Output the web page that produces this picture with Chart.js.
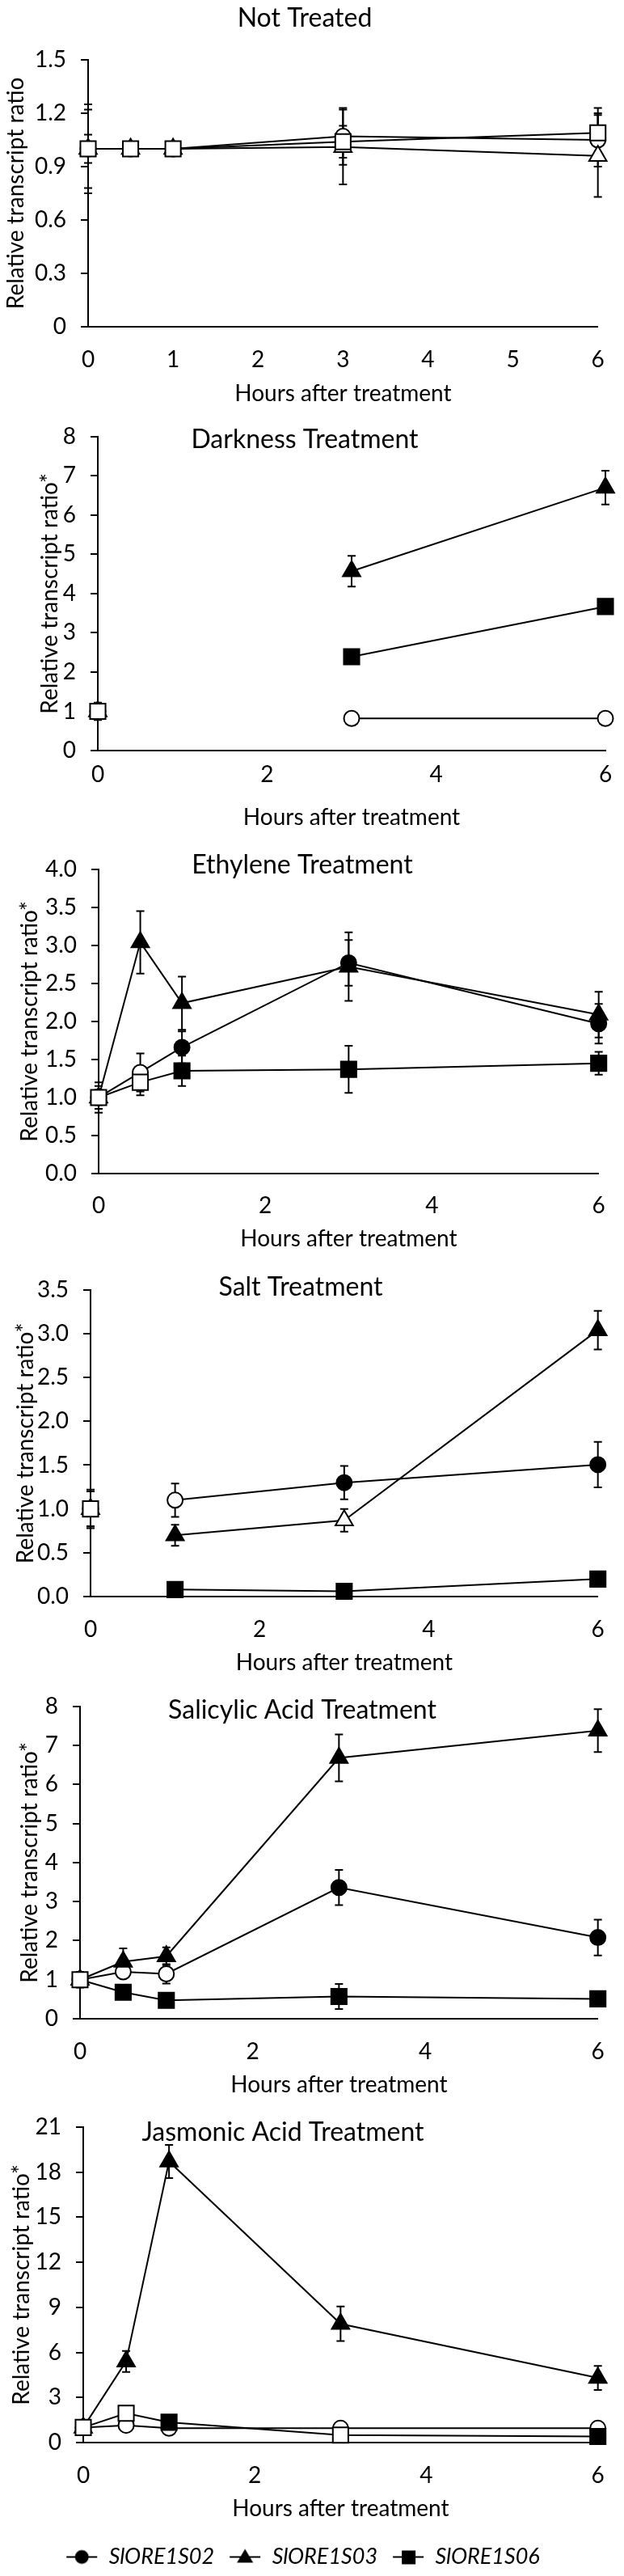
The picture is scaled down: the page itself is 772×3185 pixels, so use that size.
<!DOCTYPE html>
<html><head><meta charset="utf-8">
<script src="https://cdn.jsdelivr.net/npm/chart.js@4.4.1/dist/chart.umd.min.js"></script>
<style>
html,body{margin:0;padding:0;background:#fff;}
#wrap{position:relative;width:772px;height:3185px;overflow:hidden;background:#fff;}
#wrap canvas{position:absolute;left:0;}
</style></head><body>
<div id="wrap"></div>
<script>
// ---------------- DATA ----------------
const genes = ['SlORE1S02', 'SlORE1S03', 'SlORE1S06'];
const panelTitles = ['Not Treated', 'Darkness Treatment', 'Ethylene Treatment', 'Salt Treatment', 'Salicylic Acid Treatment', 'Jasmonic Acid Treatment'];
const xTitle = 'Hours after treatment';
const yTitlePlain = 'Relative transcript ratio';
const yTitleStar = 'Relative transcript ratio*';

// Not treated
const ntHours = [0, 0.5, 1, 3, 6];
const ntS02 = [1, 1, 1, 1.07, 1.05];
const ntS02Err = [0.08, 0, 0, 0.16, 0.15];
const ntS02Sig = [0, 0, 0, 0, 0];
const ntS03 = [1, 1, 1, 1.01, 0.96];
const ntS03Err = [0.22, 0, 0, 0.21, 0.23];
const ntS03Sig = [0, 0, 0, 0, 0];
const ntS06 = [1, 1, 1, 1.04, 1.09];
const ntS06Err = [0.25, 0, 0, 0.09, 0.14];
const ntS06Sig = [0, 0, 0, 0, 0];

// Darkness
const dkHours = [0, 3, 6];
const dkS02 = [1, 0.82, 0.82];
const dkS02Err = [0.2, 0.03, 0.03];
const dkS02Sig = [0, 0, 0];
const dkS03 = [1, 4.57, 6.70];
const dkS03Err = [0.2, 0.39, 0.43];
const dkS03Sig = [0, 1, 1];
const dkS06 = [1, 2.39, 3.67];
const dkS06Err = [0.22, 0.08, 0.12];
const dkS06Sig = [0, 1, 1];

// Ethylene
const etHours = [0, 0.5, 1, 3, 6];
const etS02 = [1, 1.33, 1.66, 2.77, 1.97];
const etS02Err = [0.2, 0.25, 0.21, 0.3, 0.26];
const etS02Sig = [0, 0, 1, 1, 1];
const etS03 = [1, 3.04, 2.24, 2.72, 2.09];
const etS03Err = [0.1, 0.41, 0.35, 0.45, 0.3];
const etS03Sig = [0, 1, 1, 1, 1];
const etS06 = [1, 1.2, 1.35, 1.37, 1.45];
const etS06Err = [0.15, 0.17, 0.2, 0.31, 0.15];
const etS06Sig = [0, 0, 1, 1, 1];

// Salt
const slHours = [0, 1, 3, 6];
const slS02 = [1, 1.10, 1.30, 1.505];
const slS02Err = [0.2, 0.19, 0.19, 0.26];
const slS02Sig = [0, 0, 1, 1];
const slS03 = [1, 0.70, 0.87, 3.04];
const slS03Err = [0.2, 0.12, 0.13, 0.22];
const slS03Sig = [0, 1, 0, 1];
const slS06 = [1, 0.08, 0.06, 0.20];
const slS06Err = [0.22, 0.02, 0.02, 0.02];
const slS06Sig = [0, 1, 1, 1];

// Salicylic acid
const saHours = [0, 0.5, 1, 3, 6];
const saS02 = [1, 1.2, 1.15, 3.36, 2.08];
const saS02Err = [0.15, 0.15, 0.25, 0.45, 0.46];
const saS02Sig = [0, 0, 0, 1, 1];
const saS03 = [1, 1.46, 1.6, 6.68, 7.38];
const saS03Err = [0.15, 0.34, 0.23, 0.6, 0.55];
const saS03Sig = [0, 1, 1, 1, 1];
const saS06 = [1, 0.68, 0.47, 0.57, 0.51];
const saS06Err = [0.2, 0.05, 0.05, 0.32, 0.05];
const saS06Sig = [0, 1, 1, 1, 1];

// Jasmonic acid
const jaHours = [0, 0.5, 1, 3, 6];
const jaS02 = [1, 1.15, 0.95, 0.95, 0.95];
const jaS02Err = [0.1, 0.1, 0.1, 0.1, 0.1];
const jaS02Sig = [0, 0, 0, 0, 0];
const jaS03 = [1, 5.4, 18.7, 7.9, 4.3];
const jaS03Err = [0.2, 0.7, 1.1, 1.15, 0.8];
const jaS03Sig = [0, 1, 1, 1, 1];
const jaS06 = [1, 1.95, 1.35, 0.5, 0.4];
const jaS06Err = [0.2, 0.3, 0.1, 0.1, 0.1];
const jaS06Sig = [0, 0, 1, 0, 1];

// tick values and labels
const xTicksHourly = [0, 1, 2, 3, 4, 5, 6];
const xLabelsHourly = ['0', '1', '2', '3', '4', '5', '6'];
const xTicksEven = [0, 2, 4, 6];
const xLabelsEven = ['0', '2', '4', '6'];
const yTicksNT = [0, 0.3, 0.6, 0.9, 1.2, 1.5];
const yLabelsNT = ['0', '0.3', '0.6', '0.9', '1.2', '1.5'];
const yTicks8 = [0, 1, 2, 3, 4, 5, 6, 7, 8];
const yLabels8 = ['0', '1', '2', '3', '4', '5', '6', '7', '8'];
const yTicksET = [0, 0.5, 1, 1.5, 2, 2.5, 3, 3.5, 4];
const yLabelsET = ['0.0', '0.5', '1.0', '1.5', '2.0', '2.5', '3.0', '3.5', '4.0'];
const yTicksSL = [0, 0.5, 1, 1.5, 2, 2.5, 3, 3.5];
const yLabelsSL = ['0.0', '0.5', '1.0', '1.5', '2.0', '2.5', '3.0', '3.5'];
const yTicksJA = [0, 3, 6, 9, 12, 15, 18, 21];
const yLabelsJA = ['0', '3', '6', '9', '12', '15', '18', '21'];

// ---------------- PANELS (built from the arrays) ----------------
const panels = [
  {title: panelTitles[0], hours: ntHours, joinFirst: true, yTitle: yTitlePlain,
   series: [[ntS02, ntS02Err, ntS02Sig], [ntS03, ntS03Err, ntS03Sig], [ntS06, ntS06Err, ntS06Sig]],
   xTicks: xTicksHourly, xLabels: xLabelsHourly, yTicks: yTicksNT, yLabels: yLabelsNT},
  {title: panelTitles[1], hours: dkHours, joinFirst: false, yTitle: yTitleStar,
   series: [[dkS02, dkS02Err, dkS02Sig], [dkS03, dkS03Err, dkS03Sig], [dkS06, dkS06Err, dkS06Sig]],
   xTicks: xTicksEven, xLabels: xLabelsEven, yTicks: yTicks8, yLabels: yLabels8},
  {title: panelTitles[2], hours: etHours, joinFirst: true, yTitle: yTitleStar,
   series: [[etS02, etS02Err, etS02Sig], [etS03, etS03Err, etS03Sig], [etS06, etS06Err, etS06Sig]],
   xTicks: xTicksEven, xLabels: xLabelsEven, yTicks: yTicksET, yLabels: yLabelsET},
  {title: panelTitles[3], hours: slHours, joinFirst: false, yTitle: yTitleStar,
   series: [[slS02, slS02Err, slS02Sig], [slS03, slS03Err, slS03Sig], [slS06, slS06Err, slS06Sig]],
   xTicks: xTicksEven, xLabels: xLabelsEven, yTicks: yTicksSL, yLabels: yLabelsSL},
  {title: panelTitles[4], hours: saHours, joinFirst: true, yTitle: yTitleStar,
   series: [[saS02, saS02Err, saS02Sig], [saS03, saS03Err, saS03Sig], [saS06, saS06Err, saS06Sig]],
   xTicks: xTicksEven, xLabels: xLabelsEven, yTicks: yTicks8, yLabels: yLabels8},
  {title: panelTitles[5], hours: jaHours, joinFirst: true, yTitle: yTitleStar,
   series: [[jaS02, jaS02Err, jaS02Sig], [jaS03, jaS03Err, jaS03Sig], [jaS06, jaS06Err, jaS06Sig]],
   xTicks: xTicksEven, xLabels: xLabelsEven, yTicks: yTicksJA, yLabels: yLabelsJA}
];

// ---------------- LAYOUT ----------------
const TICK_FONT = 28, XT_FONT = 28, YT_FONT = 28, TITLE_FONT = 32, LEG_FONT = 27;
const geo = [
  {top: 0,    h: 505, L: 109, R: 747, T: 74,   B: 404,  tx: 377, ty: 23,   ytx: 20, xlab: 445,  xt: 487},
  {top: 505,  h: 535, L: 121, R: 749, T: 534,  B: 928,  tx: 377, ty: 544,  ytx: 62, xlab: 958,  xt: 1011},
  {top: 1040, h: 520, L: 122, R: 751, T: 1057, B: 1451, tx: 374, ty: 1070, ytx: 37, xlab: 1491, xt: 1532},
  {top: 1560, h: 515, L: 112, R: 749, T: 1582, B: 1974, tx: 372, ty: 1592, ytx: 32, xlab: 2015, xt: 2056},
  {top: 2075, h: 520, L: 99,  R: 749, T: 2105, B: 2496, tx: 374, ty: 2115, ytx: 37, xlab: 2537, xt: 2578},
  {top: 2595, h: 590, L: 103, R: 749, T: 2628, B: 3020, tx: 350, ty: 2637, ytx: 27, xlab: 3061, xt: 3102}
];
const LEG_PAD = 18;
const LEGEND_H = LEG_FONT + LEG_PAD + 10;
const markerStyles = ['circle', 'triangle', 'rect'];
const markerRadii = [9.5, 12.5, 13.5];

Chart.defaults.font.family = 'Lato';
Chart.defaults.color = '#000';

const errorBars = {
  id: 'errorBars',
  beforeDatasetsDraw(chart) {
    const ctx = chart.ctx, ys = chart.scales.y;
    ctx.save();
    ctx.strokeStyle = '#000';
    ctx.lineWidth = 2;
    chart.data.datasets.forEach((ds, di) => {
      const meta = chart.getDatasetMeta(di);
      (ds.errors || []).forEach((e, i) => {
        if (!e) return;
        const v = ds.data[i].y, x = meta.data[i].x;
        const y1 = ys.getPixelForValue(v + e), y2 = ys.getPixelForValue(v - e);
        ctx.beginPath();
        ctx.moveTo(x, y1); ctx.lineTo(x, y2);
        ctx.moveTo(x - 5, y1); ctx.lineTo(x + 5, y1);
        ctx.moveTo(x - 5, y2); ctx.lineTo(x + 5, y2);
        ctx.stroke();
      });
    });
    ctx.restore();
  }
};

const panelTitle = {
  id: 'panelTitle',
  afterDraw(chart, args, opts) {
    if (!opts || !opts.text) return;
    const ctx = chart.ctx;
    ctx.save();
    ctx.font = opts.font;
    ctx.fillStyle = '#000';
    ctx.textAlign = 'center';
    ctx.textBaseline = 'middle';
    ctx.fillText(opts.text, opts.x, opts.y);
    ctx.restore();
  }
};

function legendIcon(k) {
  const c = document.createElement('canvas');
  c.width = 40; c.height = 26;
  const g = c.getContext('2d');
  g.strokeStyle = '#000'; g.lineWidth = 2;
  g.beginPath(); g.moveTo(1, 13); g.lineTo(39, 13); g.stroke();
  g.fillStyle = '#000';
  g.beginPath();
  if (k === 0) { g.arc(20, 13, 8.5, 0, Math.PI * 2); g.fill(); }
  else if (k === 1) { g.moveTo(20, 3); g.lineTo(30, 20); g.lineTo(10, 20); g.closePath(); g.fill(); }
  else { g.fillRect(12, 5, 17, 17); }
  return c;
}
const legendIcons = [0, 1, 2].map(legendIcon);

const wrap = document.getElementById('wrap');
panels.forEach((p, pi) => {
  const g = geo[pi];
  const last = pi === panels.length - 1;
  const cv = document.createElement('canvas');
  cv.width = 772; cv.height = g.h;
  cv.style.top = g.top + 'px';
  cv.style.width = '772px'; cv.style.height = g.h + 'px';
  wrap.appendChild(cv);

  const datasets = p.series.map((s, k) => {
    const ds = {
      label: genes[k],
      data: p.hours.map((h, i) => ({x: h, y: s[0][i]})),
      errors: s[1],
      pointStyle: markerStyles[k],
      pointRadius: markerRadii[k],
      pointHoverRadius: markerRadii[k],
      pointBorderWidth: 2,
      pointBorderColor: '#000',
      pointBackgroundColor: s[2].map(f => f ? '#000' : '#fff'),
      borderColor: '#000',
      borderWidth: 2,
      tension: 0,
      fill: false,
      clip: false,
      order: 3 - k
    };
    if (!p.joinFirst) {
      ds.segment = {borderColor: c => c.p0DataIndex === 0 ? 'rgba(0,0,0,0)' : undefined};
    }
    return ds;
  });

  const bottomEdge = g.top + g.h - (last ? LEGEND_H : 0);
  const xAxisH = bottomEdge - g.B;
  const tickHalf = TICK_FONT * 1.2 / 2;
  const xTickPad = g.xlab - g.B - tickHalf;
  const xTitlePB = Math.max(0, bottomEdge - XT_FONT * 1.2 / 2 - g.xt);

  new Chart(cv, {
    type: 'line',
    data: {datasets},
    plugins: [errorBars, panelTitle],
    options: {
      responsive: false,
      animation: false,
      devicePixelRatio: 1,
      events: [],
      layout: {autoPadding: false, padding: {top: g.T - g.top, right: 772 - g.R, bottom: 0, left: 0}},
      plugins: {
        tooltip: {enabled: false},
        title: {display: false},
        panelTitle: {text: p.title, x: g.tx, y: g.ty - g.top, font: TITLE_FONT + 'px Lato'},
        legend: last ? {
          display: true,
          position: 'bottom',
          labels: {
            usePointStyle: true,
            pointStyleWidth: 40,
            boxHeight: 26,
            padding: LEG_PAD,
            color: '#000',
            font: {size: LEG_FONT, style: 'italic'},
            generateLabels: chart => chart.data.datasets.map((ds, i) => ({
              text: ds.label, pointStyle: legendIcons[i], fillStyle: '#000', strokeStyle: '#000',
              lineWidth: 0, hidden: false, datasetIndex: i, fontColor: '#000'
            }))
          }
        } : {display: false}
      },
      scales: {
        x: {
          type: 'linear',
          min: 0, max: 6,
          afterBuildTicks: s => { s.ticks = p.xTicks.map(v => ({value: v})); },
          ticks: {font: {size: TICK_FONT}, color: '#000', padding: xTickPad, maxRotation: 0, autoSkip: false,
                  callback: (v, i) => p.xLabels[i]},
          grid: {display: false, drawTicks: false},
          border: {display: true, color: '#000', width: 2},
          title: {display: true, text: xTitle, font: {size: XT_FONT}, color: '#000', padding: {top: 0, bottom: xTitlePB}},
          afterFit: s => { s.height = xAxisH; }
        },
        y: {
          type: 'linear',
          min: 0, max: p.yTicks[p.yTicks.length - 1],
          afterBuildTicks: s => { s.ticks = p.yTicks.map(v => ({value: v})); },
          ticks: {font: {size: TICK_FONT}, color: '#000', padding: 18, autoSkip: false,
                  callback: (v, i) => p.yLabels[i]},
          grid: {display: true, drawOnChartArea: false, drawTicks: true, tickLength: 9, color: '#000', lineWidth: 2},
          border: {display: true, color: '#000', width: 2},
          title: {display: true, text: p.yTitle, font: {size: YT_FONT}, color: '#000',
                  padding: {top: g.ytx - YT_FONT * 1.2 / 2, bottom: 0}},
          afterFit: s => { s.width = g.L; }
        }
      }
    }
  });
});
</script>
</body></html>
